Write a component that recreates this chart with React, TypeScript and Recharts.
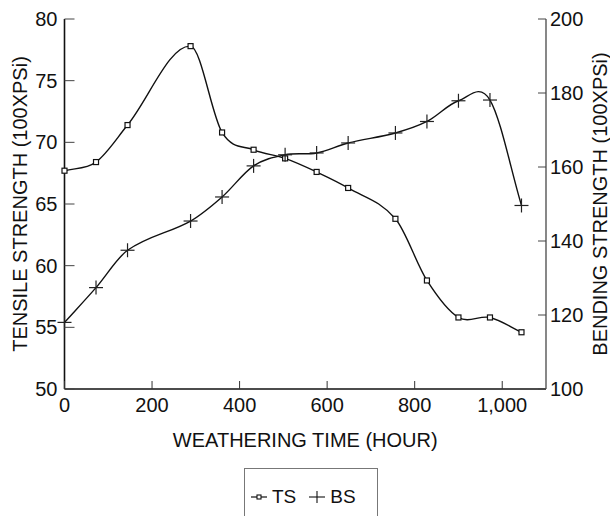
import React from "react"
import { LineChart, Line, XAxis, YAxis, Legend } from "recharts"

// weathering time in hours (both series measured at the same times)
const hours = [0, 72, 144, 288, 360, 432, 504, 576, 648, 756, 828, 900, 972, 1044]
// tensile strength, 100 psi (left axis)
const tsValues = [67.7, 68.4, 71.4, 77.8, 70.8, 69.4, 68.7, 67.6, 66.3, 63.8, 58.8, 55.8, 55.8, 54.6]
// bending strength, 100 psi (right axis)
const bsValues = [118, 127.4, 137.5, 145.4, 151.9, 160.3, 163.3, 163.8, 166.5, 169.2, 172.3, 177.9, 178.1, 149.6]

const xTicks = [0, 200, 400, 600, 800, 1000]
const topMinorTicks = [40, 80, 120, 160, 200, 240, 280, 320, 360, 400, 440, 480, 520, 560, 600, 640, 680, 720, 760, 800, 840, 880, 920, 960, 1000, 1040, 1080]
const leftTicks = [50, 55, 60, 65, 70, 75, 80]
const rightTicks = [100, 120, 140, 160, 180, 200]

const data = hours.map((h, i) => ({ h, ts: tsValues[i], bs: bsValues[i] }))

const FONT = '"Liberation Sans", Arial, Helvetica, sans-serif'
const INK = "#111"
const TICK_FONT = 20
const TITLE_FONT = 20

// smooth curve through every point (finite-difference hermite spline)
const smoothCurve = (context: any) => {
    let xs: number[] = []
    let ys: number[] = []
    return {
        areaStart() {},
        areaEnd() {},
        lineStart() {
            xs = []
            ys = []
        },
        point(x: number, y: number) {
            xs.push(+x)
            ys.push(+y)
        },
        lineEnd() {
            const n = xs.length
            if (!n) return
            const slope = (i: number) => {
                const a = Math.max(i - 1, 0)
                const b = Math.min(i + 1, n - 1)
                return (ys[b] - ys[a]) / (xs[b] - xs[a] || 1)
            }
            context.moveTo(xs[0], ys[0])
            for (let i = 0; i < n - 1; i++) {
                const h = xs[i + 1] - xs[i]
                context.bezierCurveTo(
                    xs[i] + h / 3, ys[i] + (slope(i) * h) / 3,
                    xs[i + 1] - h / 3, ys[i + 1] - (slope(i + 1) * h) / 3,
                    xs[i + 1], ys[i + 1]
                )
            }
        },
    }
}

const SquareDot = (props: any) => {
    const { cx, cy, index } = props
    if (cx == null || cy == null) return <g key={`ts-${index}`} />
    return <rect key={`ts-${index}`} x={cx - 2.5} y={cy - 2.5} width={5} height={5} fill="#fff" stroke={INK} strokeWidth={1.2} />
}

const PlusDot = (props: any) => {
    const { cx, cy, index } = props
    if (cx == null || cy == null) return <g key={`bs-${index}`} />
    return (
        <g key={`bs-${index}`} stroke="#222" strokeWidth={1.2}>
            <line x1={cx - 7} y1={cy} x2={cx + 7} y2={cy} />
            <line x1={cx} y1={cy - 7} x2={cx} y2={cy + 7} />
        </g>
    )
}

// ticks point into the plot, so each tick draws its own mark
const LeftTick = (props: any) => {
    const { x, y, payload } = props
    return (
        <g>
            <line x1={x + 7} y1={y} x2={x + 17} y2={y} stroke="#444" strokeWidth={1} />
            <text x={x} y={y} textAnchor="end" dominantBaseline="central" fontSize={TICK_FONT} fontFamily={FONT} fill={INK}>
                {payload.value}
            </text>
        </g>
    )
}

const RightTick = (props: any) => {
    const { x, y, payload } = props
    return (
        <g>
            <line x1={x - 4} y1={y} x2={x - 12} y2={y} stroke="#444" strokeWidth={1} />
            <text x={x} y={y} textAnchor="start" dominantBaseline="central" fontSize={TICK_FONT} fontFamily={FONT} fill={INK}>
                {payload.value}
            </text>
        </g>
    )
}

const BottomTick = (props: any) => {
    const { x, y, payload } = props
    return (
        <g>
            <line x1={x} y1={y - 8} x2={x} y2={y - 16} stroke="#333" strokeWidth={1} />
            <text x={x} y={y + 15} textAnchor="middle" fontSize={TICK_FONT} fontFamily={FONT} fill={INK}>
                {Number(payload.value).toLocaleString("en-US")}
            </text>
        </g>
    )
}

const TopMinorTick = (props: any) => {
    const { x, y } = props
    return <line x1={x} y1={y} x2={x} y2={y + 3} stroke="#777" strokeWidth={1} />
}

const LeftTitle = (props: any) => {
    const vb = props.viewBox || {}
    const x = vb.x + 20
    const y = vb.y + vb.height / 2
    return (
        <text x={x} y={y} transform={`rotate(-90 ${x} ${y})`} textAnchor="middle" dominantBaseline="central" fontSize={TITLE_FONT} fontFamily={FONT} fill={INK}>
            TENSILE STRENGTH (100XPSi)
        </text>
    )
}

const RightTitle = (props: any) => {
    const vb = props.viewBox || {}
    const x = vb.x + 54
    const y = vb.y + vb.height / 2
    return (
        <text x={x} y={y} transform={`rotate(-90 ${x} ${y})`} textAnchor="middle" dominantBaseline="central" fontSize={TITLE_FONT} fontFamily={FONT} fill={INK}>
            BENDING STRENGTH (100XPSi)
        </text>
    )
}

const BottomTitle = (props: any) => {
    const vb = props.viewBox || {}
    return (
        <text x={vb.x + vb.width / 2} y={vb.y + 51} textAnchor="middle" dominantBaseline="central" fontSize={TITLE_FONT} fontFamily={FONT} fill={INK}>
            WEATHERING TIME (HOUR)
        </text>
    )
}

const LegendBox = () => (
    <div
        style={{
            width: 134,
            height: 60,
            boxSizing: "border-box",
            border: "1px solid #777",
            fontFamily: FONT,
            fontSize: 19,
            color: INK,
            display: "flex",
            alignItems: "flex-start",
            paddingTop: 17,
            paddingLeft: 5,
        }}
    >
        <svg width={18} height={16} style={{ marginTop: 3 }}>
            <line x1={1} y1={8} x2={17} y2={8} stroke={INK} strokeWidth={1.2} />
            <rect x={7} y={6} width={4} height={4} fill="#fff" stroke={INK} strokeWidth={1.1} />
        </svg>
        <span style={{ marginLeft: 4, lineHeight: "22px" }}>TS</span>
        <svg width={18} height={16} style={{ marginTop: 3, marginLeft: 12 }}>
            <line x1={1} y1={8} x2={17} y2={8} stroke={INK} strokeWidth={1.1} />
            <line x1={9} y1={2} x2={9} y2={14} stroke={INK} strokeWidth={1.1} />
        </svg>
        <span style={{ marginLeft: 4, lineHeight: "22px" }}>BS</span>
    </div>
)

export default function App() {
    return (
        <div style={{ position: "absolute", left: 0, top: 0, width: 610, height: 516, background: "#fff", overflow: "hidden" }}>
            <LineChart width={610} height={516} data={data} margin={{ top: 19, right: 0, bottom: 97, left: 0 }}>
                <XAxis
                    dataKey="h"
                    type="number"
                    domain={[0, 1100]}
                    ticks={xTicks}
                    height={30}
                    tick={<BottomTick />}
                    tickSize={0}
                    tickMargin={8}
                    axisLine={{ stroke: INK, strokeWidth: 1.6 }}
                    tickLine={false}
                    label={<BottomTitle />}
                />
                <XAxis
                    xAxisId="top"
                    dataKey="h"
                    type="number"
                    orientation="top"
                    domain={[0, 1100]}
                    ticks={topMinorTicks}
                    height={0}
                    tick={<TopMinorTick />}
                    tickSize={0}
                    tickMargin={0}
                    axisLine={{ stroke: "#555", strokeWidth: 1.4 }}
                    tickLine={false}
                />
                <YAxis
                    yAxisId="left"
                    domain={[50, 80]}
                    ticks={leftTicks}
                    width={64.5}
                    tick={<LeftTick />}
                    tickSize={0}
                    tickMargin={7}
                    axisLine={{ stroke: INK, strokeWidth: 1.6 }}
                    tickLine={false}
                    label={<LeftTitle />}
                />
                <YAxis
                    yAxisId="right"
                    orientation="right"
                    domain={[100, 200]}
                    ticks={rightTicks}
                    width={64}
                    tick={<RightTick />}
                    tickSize={0}
                    tickMargin={4}
                    axisLine={{ stroke: "#555", strokeWidth: 1.4 }}
                    tickLine={false}
                    label={<RightTitle />}
                />
                <Legend
                    layout="horizontal"
                    verticalAlign="middle"
                    align="center"
                    wrapperStyle={{ position: "absolute", left: 244, top: 468, width: 134 }}
                    content={() => <LegendBox />}
                />
                <Line
                    yAxisId="left"
                    type={smoothCurve as any}
                    dataKey="ts"
                    name="TS"
                    stroke={INK}
                    strokeWidth={1.4}
                    dot={SquareDot}
                    activeDot={false}
                    isAnimationActive={false}
                />
                <Line
                    yAxisId="right"
                    type={smoothCurve as any}
                    dataKey="bs"
                    name="BS"
                    stroke={INK}
                    strokeWidth={1.4}
                    dot={PlusDot}
                    activeDot={false}
                    isAnimationActive={false}
                />
            </LineChart>
        </div>
    )
}
